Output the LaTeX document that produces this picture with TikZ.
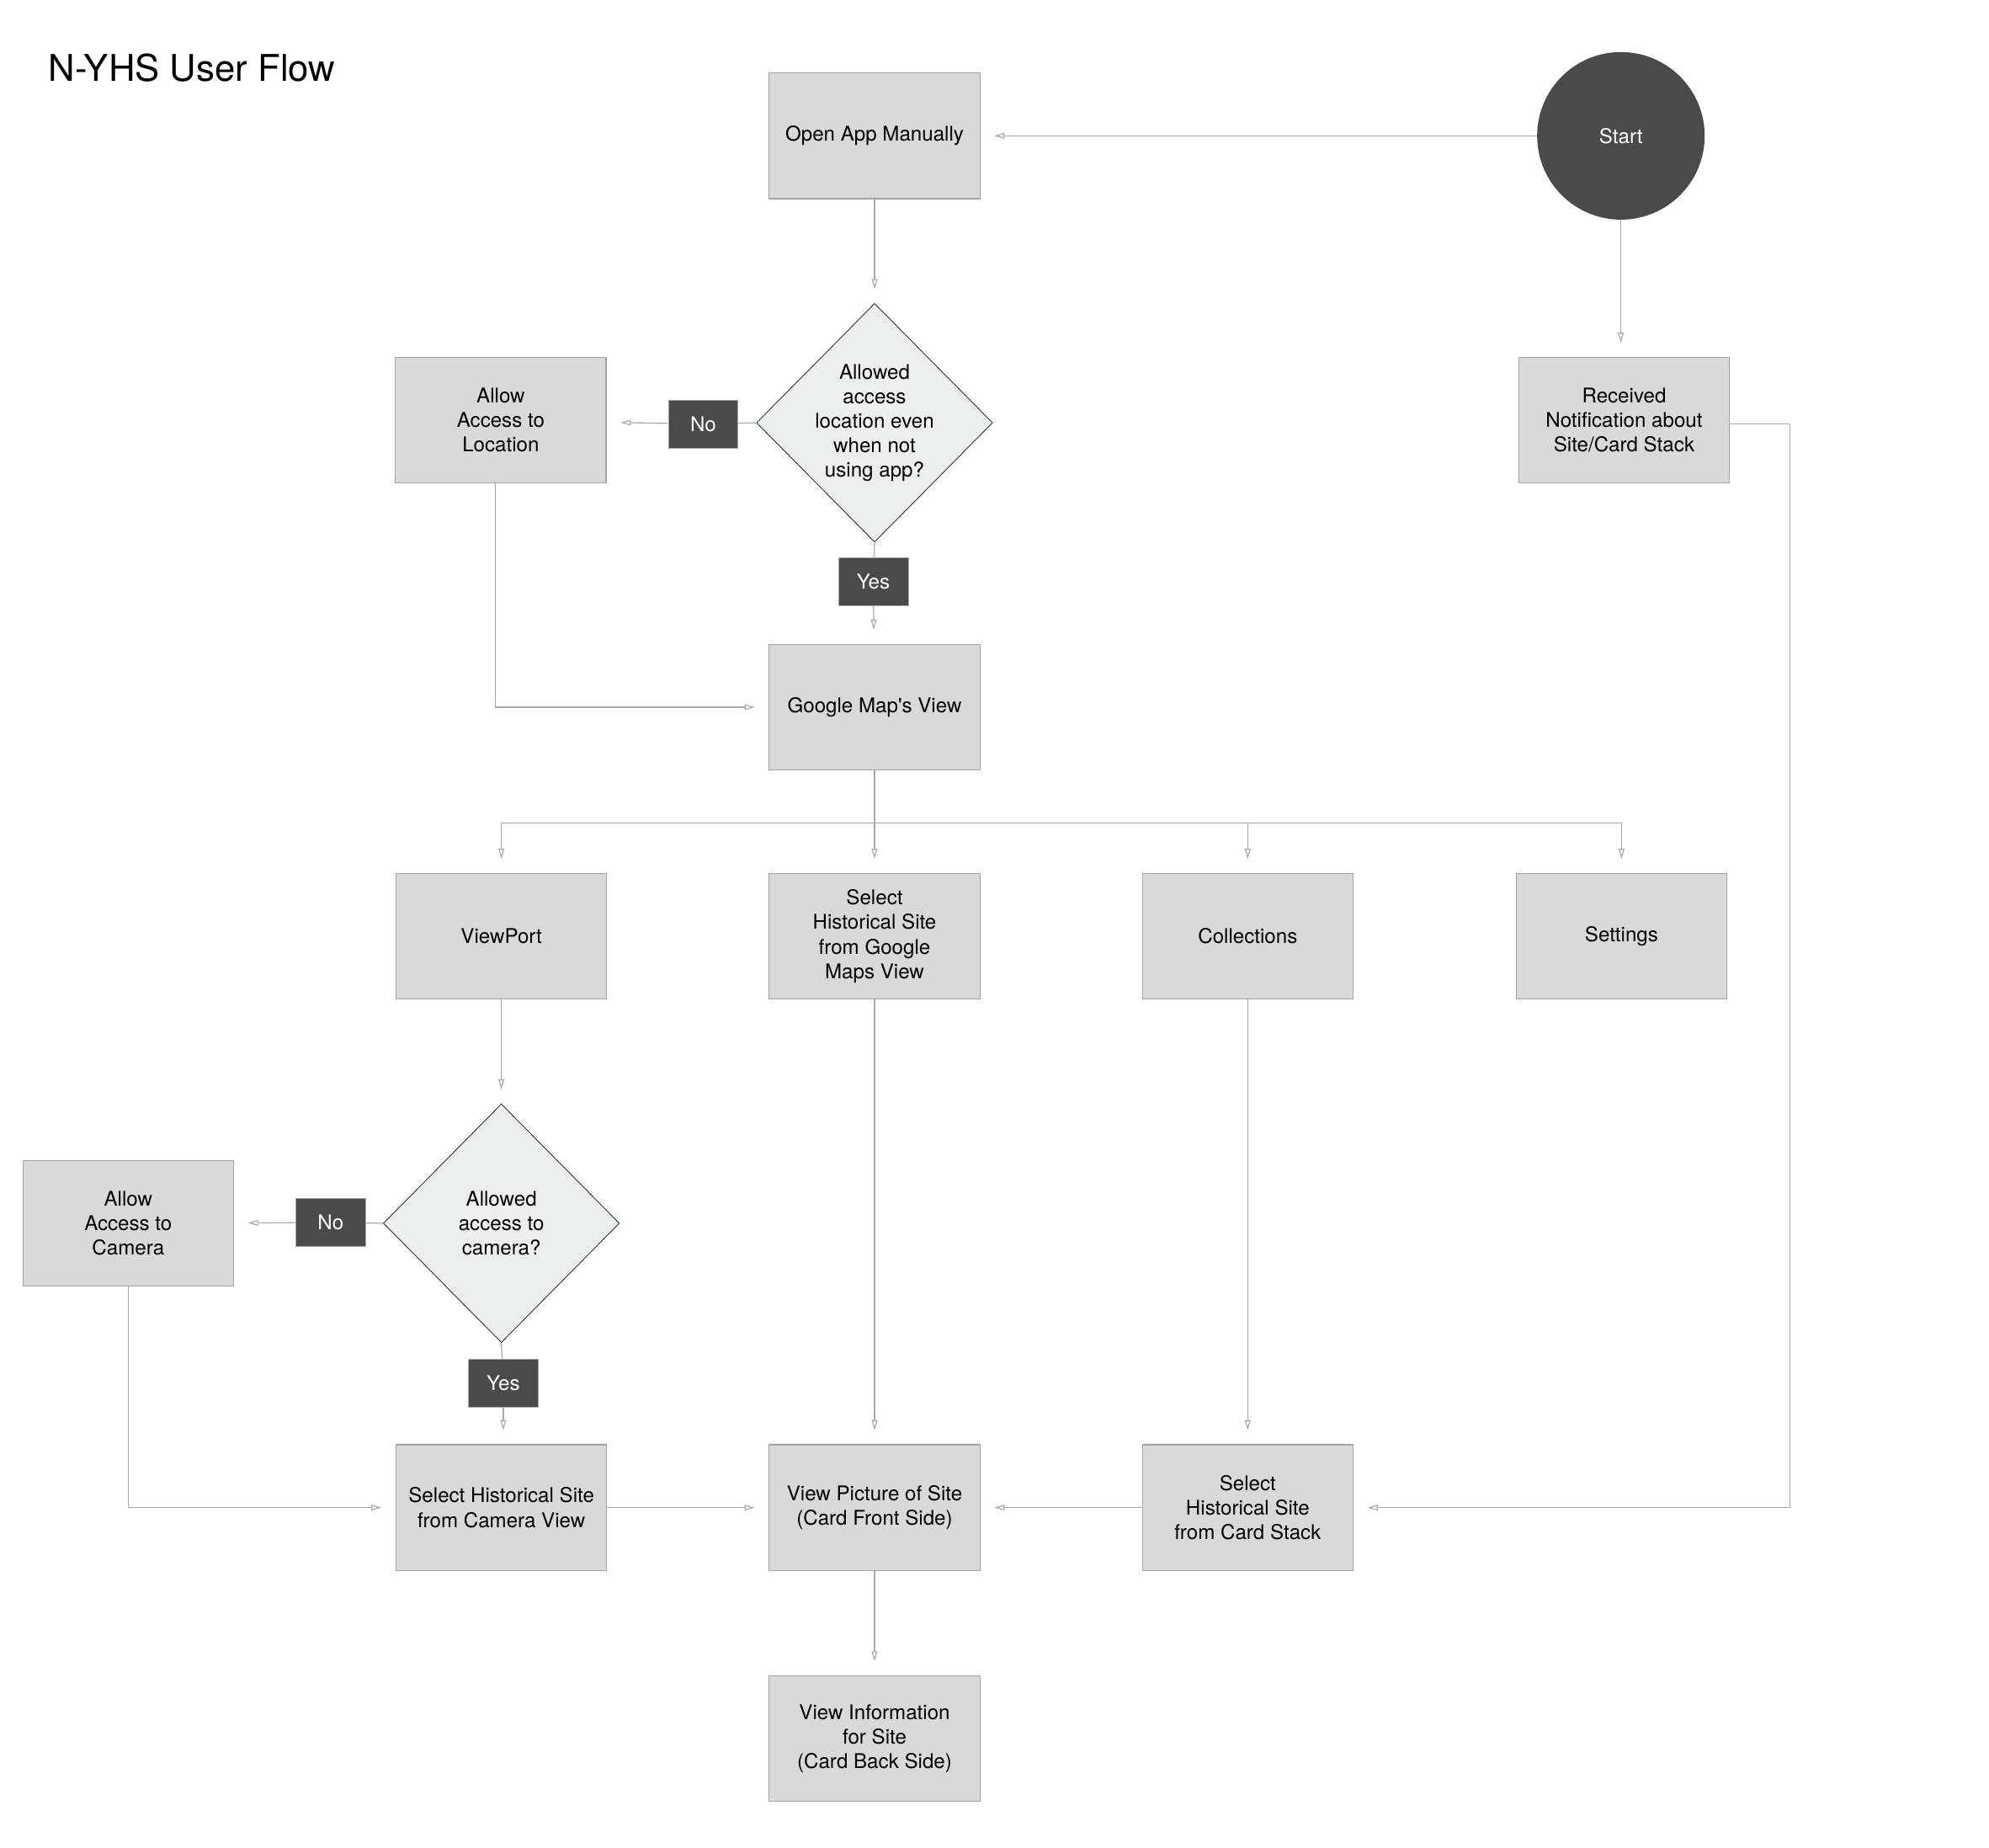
\documentclass[tikz,border=0pt]{standalone}
\usepackage{fontspec}
\setmainfont{TeX Gyre Heros}
\usetikzlibrary{arrows.meta,shapes.geometric}
\definecolor{boxfill}{HTML}{D9D9D9}
\definecolor{boxline}{HTML}{A3A3A3}
\definecolor{darkfill}{HTML}{4A4A4A}
\definecolor{linkgray}{HTML}{A8A8A8}
\definecolor{decfill}{HTML}{ECEFF0}
\begin{document}
\begin{tikzpicture}[x=1pt, y=-1pt,
  every node/.style={font=\fontsize{16}{19.3}\selectfont, align=center},
  stepbox/.style={rectangle, fill=boxfill, draw=boxline, line width=0.8pt, minimum width=166pt, minimum height=99pt, inner sep=0pt},
  decision/.style={diamond, fill=decfill, draw=black!80, line width=0.6pt, minimum width=186pt, minimum height=188pt, inner sep=0pt},
  answer/.style={rectangle, fill=darkfill, draw=gray!70, line width=0.6pt, text=white, minimum width=55pt, minimum height=38pt, inner sep=0pt},
  link/.style={draw=linkgray, line width=0.8pt},
  arr/.style={link, -{Triangle[open, length=8pt, width=4.5pt]}, shorten >=11pt}]
  \useasboundingbox (0,0) rectangle (1567,1455);
  \node[anchor=base west, inner sep=0pt, font=\fontsize{29}{34}\selectfont] (title) at (38,64) {N-YHS User Flow};
  \node[circle, fill=darkfill, minimum size=132pt, text=white] (start) at (1277,107) {Start};
  \node[stepbox] (open) at (689,107) {Open App Manually};
  \node[decision] (locq) at (689,333) {Allowed\\access\\location even\\when not\\using app?};
  \node[answer] (locno) at (554,334) {No};
  \node[answer] (locyes) at (688,458) {Yes};
  \node[stepbox] (loc) at (394.5,331) {Allow\\Access to\\Location};
  \node[stepbox] (notif) at (1279.5,331) {Received\\Notification about\\Site/Card Stack};
  \node[stepbox] (gmap) at (689,557) {Google Map\textquotesingle s View};
  \node[stepbox] (vp) at (395,737.5) {ViewPort};
  \node[stepbox] (gsel) at (689,737.5) {Select\\Historical Site\\from Google\\Maps View};
  \node[stepbox] (coll) at (983,737.5) {Collections};
  \node[stepbox] (sett) at (1277.5,737.5) {Settings};
  \node[decision] (camq) at (395,963.5) {Allowed\\access to\\camera?};
  \node[answer] (camno) at (260.5,963) {No};
  \node[answer] (camyes) at (396.5,1089.5) {Yes};
  \node[stepbox] (cam) at (101,963.5) {Allow\\Access to\\Camera};
  \node[stepbox] (csel) at (395,1187.5) {Select Historical Site\\from Camera View};
  \node[stepbox] (pic) at (689,1187.5) {View Picture of Site\\(Card Front Side)};
  \node[stepbox] (stack) at (983,1187.5) {Select\\Historical Site\\from Card Stack};
  \node[stepbox] (info) at (689,1369.5) {View Information\\for Site\\(Card Back Side)};
  \coordinate (bus) at (689,648);
  \coordinate (edge) at (1410,334);
  \draw[arr] (start) -- (open);
  \draw[arr] (start.south) -- (start.south |- notif.north);
  \draw[arr] (open) -- (locq);
  \draw[link] (locq.west) -- (locno);
  \draw[arr] (locno) -- (loc);
  \draw[link] (locq.south) -- (locyes);
  \draw[arr] (locyes) -- (gmap);
  \draw[arr] (loc.south -| 390,0) |- (gmap.west);
  \draw[link] (gmap) -- (bus);
  \foreach \n in {vp,gsel,coll,sett}
    \draw[arr] (bus) -| (\n.north);
  \draw[arr] (vp) -- (camq);
  \draw[link] (camq.west) -- (camno);
  \draw[arr] (camno) -- (cam);
  \draw[link] (camq.south) -- (camyes);
  \draw[arr] (camyes.south) -- (camyes.south |- csel.north);
  \draw[arr] (cam.south) |- (csel.west);
  \draw[arr] (csel) -- (pic);
  \draw[arr] (gsel) -- (pic);
  \draw[arr] (coll) -- (stack);
  \draw[arr] (stack) -- (pic);
  \draw[arr] (pic) -- (info);
  \draw[link] (notif.east |- edge) -- (edge);
  \draw[arr] (edge) |- (stack.east);
\end{tikzpicture}
\end{document}
